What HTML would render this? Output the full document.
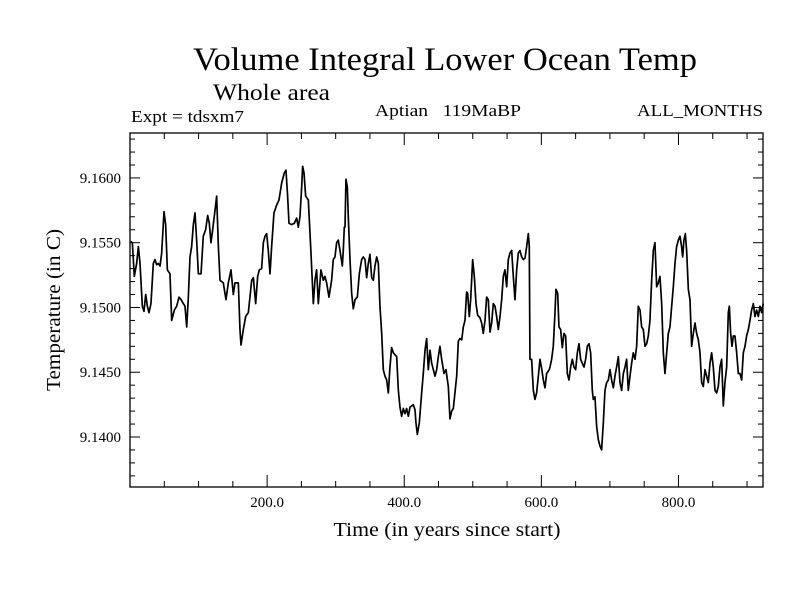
<!DOCTYPE html>
<html><head><meta charset="utf-8"><style>
html,body{margin:0;padding:0;background:#fff;}
svg{display:block;font-family:"Liberation Serif",serif;}
</style></head><body>
<svg id="chart" width="800" height="600" viewBox="0 0 800 600" xmlns="http://www.w3.org/2000/svg">
<rect width="800" height="600" fill="#fff"/>
<text x="193" y="70" font-size="33" textLength="504" lengthAdjust="spacingAndGlyphs">Volume Integral Lower Ocean Temp</text>
<text x="213" y="100" font-size="23" textLength="117" lengthAdjust="spacingAndGlyphs">Whole area</text>
<text x="131" y="122" font-size="17" textLength="113" lengthAdjust="spacingAndGlyphs">Expt = tdsxm7</text>
<text x="375" y="116" font-size="17" textLength="146" lengthAdjust="spacingAndGlyphs" xml:space="preserve">Aptian   119MaBP</text>
<text x="763" y="116" font-size="17" text-anchor="end" textLength="126" lengthAdjust="spacingAndGlyphs">ALL_MONTHS</text>
<text x="447" y="536" font-size="20" text-anchor="middle" textLength="227" lengthAdjust="spacingAndGlyphs">Time (in years since start)</text>
<text transform="translate(60,310) rotate(-90)" font-size="20" text-anchor="middle" textLength="162" lengthAdjust="spacingAndGlyphs">Temperature (in C)</text>
<g id="axes"></g>
<path id="series" fill="none" stroke="#000" stroke-width="1.7" stroke-linejoin="round"/>
<rect x="130" y="133" width="633" height="354" fill="none" stroke="#000" stroke-width="1.3"/>
</svg>
<script>
const years = [1,3.4,6.3,9.7,12.2,14.6,18,20.4,22.9,25.3,27.7,30.6,34,36.5,38.9,41.3,43.8,46.2,49.6,52,54.5,58.3,60.8,64.7,68.1,71.5,74.4,77.8,80.2,82.7,85.1,87.5,89.9,92.4,94.8,97.2,99.7,103.6,106.9,110.3,113.3,115.7,118.1,120.6,124,126.4,128.9,131.3,136.1,140,143.4,147.3,150.7,153.1,158,160.4,161.9,165.3,168.7,172.6,177.5,179.9,183.3,186.2,188.6,192,194.5,196.9,199.3,201.7,204.2,206.6,210,213.9,217.3,221.2,225.1,227.5,229.9,231.9,235.8,239.7,243.1,245.5,247.9,250.4,251.8,253.8,256.2,260.1,264,267.4,269.8,272.2,274.7,278.5,282,284.4,286.8,290.2,294.1,296.5,299,301.4,303.8,306.3,309.7,311.1,312.6,313.6,315,317,318.4,320.9,323.3,325.7,328.2,331.6,334.5,337.9,340.3,342.8,345.2,347.6,350,352.5,354.9,357.3,359.8,362.2,364.6,367.1,369.5,371.9,374.4,376.8,379.2,381.6,384.1,389,391.4,393.8,396.2,398.7,401.1,403.5,406,408.4,413.2,415.7,417.1,419.1,422,425.4,427.8,430.3,432.7,435.1,437.6,440,444.9,447.3,449.7,452.1,454.6,458,460.9,464.3,466.7,469.2,471.6,476.5,478.9,481.3,483.8,486.2,488.6,491,492.5,494.9,496.9,499.8,502.2,504.7,507.1,510.5,512.9,515.3,517.8,520.2,522.6,525.1,527.5,529.9,532.4,534.8,537.2,539.7,542.1,544.5,546.9,549.4,551.8,554.2,556.7,559.1,561.5,564,566.4,568.8,571.3,573.7,576.1,578.6,581,582.4,583.4,585.8,588.3,590.7,593.1,595.6,598,600.4,602.9,605.3,607.7,611.6,612.6,615,617.4,619.9,621.3,623.8,625.7,628.1,630.6,633,635.4,637.9,640.3,642.7,645.2,647.6,650,652.5,654.9,657.3,659.7,662.2,664.6,667,669.5,671.9,674.3,675.8,678.2,680.7,683.1,685.5,687.9,690.4,692.8,695.2,697.7,700.1,702.5,705,707.4,709.8,712.3,714.7,717.1,719.6,722,724.4,726.8,729.3,731.7,734.1,736.6,739,741.4,743.9,746.3,748.7,751.2,753.6,756,758.4,760.9,763.3,765.7,768.2,770.6,773,775.5,777.9,780.3,782.8,785.2,787.6,790.1,792.5,794.9,797.3,799.8,802.2,804.6,806.1,808,810,811.9,814.4,816.8,819.2,821.7,824.1,826.5,829,831.4,833.8,836.2,838.7,841.1,843.5,846,848.4,850.8,853.3,855.7,858.1,860.5,863,865.4,867.8,870.3,872.7,874.2,876.1,878.1,880,882.4,884.9,887.3,889.7,892.2,894.6,897,899.4,901.9,904.3,906.7,909.2,911.6,914,916.5,918.9,921.3,923.7];
const temps = [9.1551,9.1550,9.1524,9.1534,9.1547,9.1534,9.1501,9.1497,9.1510,9.1501,9.1496,9.1503,9.1534,9.1537,9.1533,9.1534,9.1532,9.1542,9.1574,9.1564,9.1529,9.1526,9.1490,9.1498,9.1501,9.1508,9.1506,9.1503,9.1501,9.1485,9.1508,9.1539,9.1547,9.1564,9.1573,9.1552,9.1526,9.1526,9.1555,9.1560,9.1571,9.1565,9.1550,9.1560,9.1575,9.1586,9.1547,9.1521,9.1519,9.1506,9.1519,9.1529,9.1510,9.1519,9.1519,9.1483,9.1471,9.1483,9.1493,9.1496,9.1521,9.1523,9.1503,9.1524,9.1529,9.1530,9.1550,9.1555,9.1557,9.1544,9.1526,9.1547,9.1573,9.1579,9.1583,9.1596,9.1604,9.1606,9.1586,9.1565,9.1564,9.1565,9.1569,9.1562,9.1570,9.1593,9.1609,9.1604,9.1586,9.1583,9.1542,9.1503,9.1521,9.1529,9.1503,9.1529,9.1521,9.1524,9.1519,9.1508,9.1521,9.1537,9.1539,9.1550,9.1552,9.1544,9.1532,9.1544,9.1562,9.1562,9.1599,9.1593,9.1570,9.1537,9.1511,9.1499,9.1506,9.1508,9.1526,9.1537,9.1539,9.1537,9.1523,9.1534,9.1541,9.1523,9.1521,9.1532,9.1539,9.1534,9.1501,9.1480,9.1452,9.1447,9.1444,9.1434,9.1454,9.1469,9.1465,9.1462,9.1436,9.1423,9.1416,9.1422,9.1418,9.1422,9.1416,9.1423,9.1425,9.1421,9.1411,9.1402,9.1411,9.1434,9.1449,9.1467,9.1476,9.1452,9.1467,9.1457,9.1447,9.1452,9.1462,9.1470,9.1460,9.1449,9.1452,9.1439,9.1414,9.1420,9.1422,9.1447,9.1474,9.1476,9.1475,9.1485,9.1490,9.1512,9.1511,9.1493,9.1506,9.1537,9.1524,9.1503,9.1494,9.1492,9.1488,9.1480,9.1490,9.1508,9.1506,9.1481,9.1488,9.1503,9.1501,9.1493,9.1483,9.1493,9.1506,9.1524,9.1529,9.1516,9.1537,9.1542,9.1544,9.1524,9.1506,9.1529,9.1542,9.1544,9.1539,9.1537,9.1538,9.1547,9.1557,9.1547,9.1460,9.1460,9.1436,9.1429,9.1434,9.1447,9.1460,9.1453,9.1444,9.1438,9.1449,9.1452,9.1454,9.1460,9.1470,9.1496,9.1514,9.1511,9.1485,9.1483,9.1469,9.1480,9.1478,9.1449,9.1444,9.1454,9.1460,9.1454,9.1452,9.1465,9.1472,9.1460,9.1457,9.1454,9.1460,9.1470,9.1472,9.1465,9.1436,9.1429,9.1431,9.1408,9.1398,9.1393,9.1390,9.1411,9.1436,9.1442,9.1444,9.1452,9.1444,9.1438,9.1447,9.1454,9.1462,9.1442,9.1436,9.1449,9.1454,9.1460,9.1436,9.1447,9.1457,9.1465,9.1460,9.1470,9.1501,9.1498,9.1485,9.1483,9.1470,9.1472,9.1478,9.1490,9.1521,9.1544,9.1550,9.1516,9.1519,9.1524,9.1503,9.1465,9.1449,9.1465,9.1480,9.1485,9.1501,9.1516,9.1534,9.1547,9.1552,9.1555,9.1547,9.1539,9.1552,9.1557,9.1544,9.1514,9.1506,9.1470,9.1480,9.1488,9.1480,9.1475,9.1465,9.1442,9.1439,9.1452,9.1447,9.1442,9.1457,9.1465,9.1454,9.1436,9.1434,9.1439,9.1454,9.1460,9.1424,9.1442,9.1454,9.1496,9.1501,9.1480,9.1470,9.1478,9.1478,9.1465,9.1449,9.1449,9.1444,9.1465,9.1470,9.1478,9.1483,9.1490,9.1498,9.1503,9.1493,9.1498,9.1493,9.1501,9.1496,9.1503];
const xTickValues = [200,400,600,800];
const xTickLabels = ["200.0","400.0","600.0","800.0"];
const yTickValues = [9.14,9.145,9.15,9.155,9.16];
const yTickLabels = ["9.1400","9.1450","9.1500","9.1550","9.1600"];

const X0=130,X1=763,Y0=133,Y1=487;
const xMin=0,xMax=923.3,yMin=9.13614,yMax=9.16347;
const sx=v=>X0+(v-xMin)/(xMax-xMin)*(X1-X0);
const sy=v=>Y1-(v-yMin)/(yMax-yMin)*(Y1-Y0);
const NS="http://www.w3.org/2000/svg";
const axes=document.getElementById('axes');
function mk(tag,attrs){const e=document.createElementNS(NS,tag);for(const k in attrs)e.setAttribute(k,attrs[k]);axes.appendChild(e);return e;}
for(let v=50;v<xMax;v+=50){
  const x=sx(v),len=(v%200===0)?12:6;
  const t1=mk('line',{x1:x,x2:x,y1:Y1,y2:Y1-len,stroke:'#000','stroke-width':1});
  
  
  const t2=mk('line',{x1:x,x2:x,y1:Y0,y2:Y0+len,stroke:'#000','stroke-width':1});
  
  
}
xTickValues.forEach((v,i)=>{
  const t=mk('text',{x:sx(v),y:507,'font-size':15,'text-anchor':'middle'});
  t.textContent=xTickLabels[i];
  
  
});
for(let k=Math.ceil(yMin*1000);k<=Math.floor(yMax*1000);k++){
  const v=k/1000,y=sy(v),len=(k%5===0)?10:5;
  const t1=mk('line',{x1:X0,x2:X0+len,y1:y,y2:y,stroke:'#000','stroke-width':1});
  
  
  const t2=mk('line',{x1:X1,x2:X1-len,y1:y,y2:y,stroke:'#000','stroke-width':1});
  
  
}
yTickValues.forEach((v,i)=>{
  const t=mk('text',{x:121,y:sy(v)+5,'font-size':15,'text-anchor':'end'});
  t.textContent=yTickLabels[i];
  
  
});
let d='';
years.forEach((yr,i)=>{d+=(i?'L':'M')+sx(yr).toFixed(2)+' '+sy(temps[i]).toFixed(2);});
document.getElementById('series').setAttribute('d',d);
</script>
</body></html>
